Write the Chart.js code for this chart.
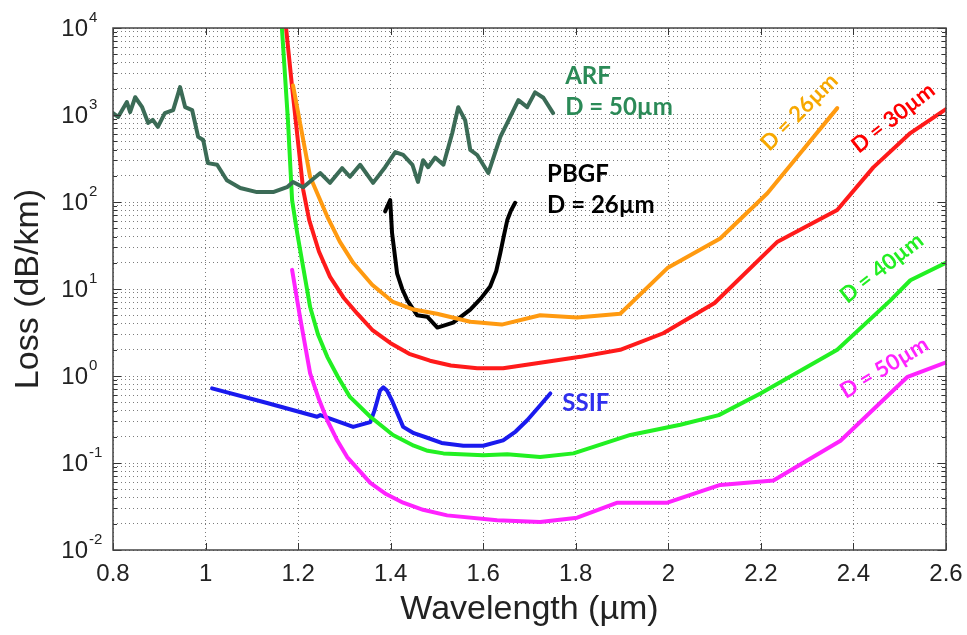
<!DOCTYPE html>
<html>
<head>
<meta charset="utf-8">
<script src="https://cdn.jsdelivr.net/npm/chart.js@4.4.1/dist/chart.umd.min.js"></script>
<style>
  html, body { margin: 0; padding: 0; background: #fff; }
  #wrap { width: 967px; height: 635px; position: relative; }
</style>
</head>
<body>
<div id="wrap"><canvas id="lossChart"></canvas></div>
<script>
// values: wavelength in um, loss in dB/km
const arfWl = [0.800, 0.811, 0.830, 0.837, 0.848, 0.863, 0.876, 0.886, 0.897, 0.912, 0.930, 0.945, 0.956, 0.971, 0.984, 0.995, 1.005, 1.025, 1.046, 1.075, 1.111, 1.146, 1.176, 1.189, 1.211, 1.248, 1.269, 1.295, 1.312, 1.334, 1.362, 1.388, 1.410, 1.427, 1.447, 1.459, 1.470, 1.481, 1.496, 1.514, 1.533, 1.546, 1.561, 1.572, 1.587, 1.611, 1.637, 1.652, 1.676, 1.695, 1.712, 1.730, 1.751];
const arfLoss = [1050, 950, 1410, 1080, 1600, 1230, 810, 880, 730, 1050, 1140, 2090, 1230, 1140, 560, 515, 280, 268, 178, 145, 130, 130, 148, 170, 148, 215, 166, 245, 195, 268, 166, 251, 375, 347, 268, 170, 302, 251, 324, 268, 617, 1230, 870, 398, 347, 215, 562, 813, 1480, 1230, 1820, 1580, 1050];

const pbgfWl = [1.388, 1.399, 1.403, 1.414, 1.425, 1.436, 1.457, 1.479, 1.501, 1.535, 1.572, 1.595, 1.615, 1.628, 1.637, 1.645, 1.652, 1.660, 1.669];
const pbgfLoss = [78, 105, 44, 15, 10, 7.4, 5.0, 4.8, 3.6, 4.1, 5.8, 7.8, 10.7, 16, 26, 42, 62, 80, 98];

const ssifWl = [1.014, 1.133, 1.241, 1.248, 1.319, 1.356, 1.365, 1.371, 1.377, 1.384, 1.392, 1.403, 1.427, 1.450, 1.479, 1.510, 1.557, 1.600, 1.643, 1.670, 1.695, 1.720, 1.745];
const ssifLoss = [0.72, 0.49, 0.34, 0.355, 0.26, 0.295, 0.40, 0.52, 0.68, 0.74, 0.68, 0.52, 0.26, 0.22, 0.195, 0.17, 0.158, 0.158, 0.182, 0.23, 0.31, 0.44, 0.63];

const d26Wl = [1.189, 1.226, 1.263, 1.290, 1.319, 1.360, 1.405, 1.450, 1.500, 1.572, 1.640, 1.723, 1.803, 1.896, 1.998, 2.112, 2.214, 2.285, 2.365];
const d26Loss = [2190, 195, 68, 35, 20, 11.2, 7.1, 5.8, 5.2, 4.2, 3.9, 5.0, 4.7, 5.2, 17.4, 38, 126, 363, 1200];

const d30Wl = [1.174, 1.187, 1.211, 1.224, 1.245, 1.269, 1.298, 1.328, 1.360, 1.399, 1.440, 1.485, 1.530, 1.587, 1.643, 1.810, 1.896, 1.989, 2.100, 2.236, 2.365, 2.443, 2.523, 2.603];
const d30Loss = [10000, 2100, 138, 62, 27, 13.8, 8.0, 5.2, 3.4, 2.4, 1.8, 1.5, 1.32, 1.23, 1.23, 1.66, 2.0, 3.1, 6.9, 35, 81, 250, 620, 1200];

const d40Wl = [1.165, 1.178, 1.187, 1.198, 1.226, 1.243, 1.263, 1.285, 1.312, 1.356, 1.405, 1.450, 1.480, 1.514, 1.600, 1.652, 1.723, 1.795, 1.918, 2.026, 2.109, 2.199, 2.365, 2.480, 2.523, 2.603];
const d40Loss = [10000, 870, 105, 44, 6.2, 3.0, 1.66, 1.0, 0.575, 0.34, 0.21, 0.158, 0.138, 0.129, 0.123, 0.126, 0.117, 0.129, 0.21, 0.275, 0.355, 0.63, 2.0, 7.4, 12.6, 20.4];

const d50Wl = [1.187, 1.204, 1.226, 1.245, 1.263, 1.285, 1.306, 1.356, 1.390, 1.427, 1.470, 1.522, 1.630, 1.723, 1.803, 1.890, 1.998, 2.112, 2.227, 2.372, 2.517, 2.603];
const d50Loss = [16.6, 4.8, 1.07, 0.54, 0.31, 0.18, 0.117, 0.059, 0.044, 0.035, 0.029, 0.025, 0.022, 0.021, 0.0235, 0.035, 0.035, 0.056, 0.063, 0.18, 0.98, 1.45];

const xTicks = [0.8, 1.0, 1.2, 1.4, 1.6, 1.8, 2.0, 2.2, 2.4, 2.6];
const yDecades = [0.01, 0.1, 1, 10, 100, 1000, 10000];
const yExponents = ['-2', '-1', '0', '1', '2', '3', '4'];

// text notes, anchored in data coordinates
const notes = [
  { text: 'ARF', wl: 1.777, loss: 2800, color: '#2b8a57', angle: 0 },
  { text: 'D = 50\u00b5m', wl: 1.777, loss: 1236, color: '#2b8a57', angle: 0 },
  { text: 'PBGF', wl: 1.738, loss: 210, color: '#000', angle: 0 },
  { text: 'D = 26\u00b5m', wl: 1.738, loss: 92, color: '#000', angle: 0 },
  { text: 'SSIF', wl: 1.771, loss: 0.49, color: '#3030ee', angle: 0 },
  { text: 'D = 26\u00b5m', wl: 2.283, loss: 1080, color: '#f7a800', angle: -45, center: true },
  { text: 'D = 30\u00b5m', wl: 2.486, loss: 925, color: '#ff0000', angle: -38, center: true },
  { text: 'D = 40\u00b5m', wl: 2.461, loss: 17.4, color: '#22ee22', angle: -38, center: true },
  { text: 'D = 50\u00b5m', wl: 2.467, loss: 1.24, color: '#ff22ff', angle: -31, center: true }
];

function pts(wl, loss) {
  return wl.map((w, i) => ({ x: w, y: loss[i] }));
}

function series(label, wl, loss, color) {
  return {
    label: label,
    data: pts(wl, loss),
    borderColor: color,
    borderWidth: 4,
    pointRadius: 0,
    fill: false,
    borderJoinStyle: 'round',
    borderCapStyle: 'round',
    tension: 0
  };
}

const AXIS_FONT = '"Liberation Sans", Arial, sans-serif';

// box, inward tick marks, y labels with superscripts and the curve notes
const frame = {
  id: 'frame',
  afterDatasetsDraw(chart) {
    const { ctx, chartArea: a, scales: { x, y } } = chart;
    ctx.save();
    ctx.strokeStyle = '#333';
    ctx.lineWidth = 1;
    ctx.beginPath();
    xTicks.forEach(t => {
      const px = Math.round(x.getPixelForValue(t)) + 0.5;
      ctx.moveTo(px, a.bottom); ctx.lineTo(px, a.bottom - 7);
      ctx.moveTo(px, a.top); ctx.lineTo(px, a.top + 7);
    });
    yDecades.forEach((d, i) => {
      for (let m = 1; m <= 9; m++) {
        if (i === yDecades.length - 1 && m > 1) break;
        const py = Math.round(y.getPixelForValue(d * m)) + 0.5;
        const len = m === 1 ? 8 : 4;
        ctx.moveTo(a.left, py); ctx.lineTo(a.left + len, py);
        ctx.moveTo(a.right, py); ctx.lineTo(a.right - len, py);
      }
    });
    ctx.stroke();
    ctx.lineWidth = 1.5;
    ctx.strokeStyle = '#444';
    ctx.strokeRect(a.left, a.top, a.right - a.left, a.bottom - a.top);

    ctx.fillStyle = '#222';
    yDecades.forEach((d, i) => {
      const py = y.getPixelForValue(d);
      ctx.font = '24px ' + AXIS_FONT;
      ctx.textAlign = 'right';
      ctx.textBaseline = 'middle';
      ctx.fillText('10', a.left - 25, py + 1);
      ctx.font = '15px ' + AXIS_FONT;
      ctx.textAlign = 'left';
      ctx.fillText(yExponents[i], a.left - 24, py - 10);
    });

    notes.forEach(n => {
      const px = x.getPixelForValue(n.wl);
      const py = y.getPixelForValue(n.loss);
      ctx.save();
      ctx.translate(px, py);
      ctx.rotate(n.angle * Math.PI / 180);
      ctx.font = (n.center ? 'bold 22px' : 'bold 24px') + ' Lato, "Open Sans", sans-serif';
      ctx.fillStyle = n.color;
      ctx.textAlign = n.center ? 'center' : 'left';
      ctx.textBaseline = 'middle';
      ctx.fillText(n.text, 0, 0);
      ctx.restore();
    });
    ctx.restore();
  }
};

new Chart(document.getElementById('lossChart'), {
  type: 'line',
  data: {
    datasets: [
      series('ARF D = 50um', arfWl, arfLoss, '#3b6b56'),
      series('D = 26um', d26Wl, d26Loss, '#ff9a10'),
      series('D = 30um', d30Wl, d30Loss, '#ff1a1a'),
      series('D = 40um', d40Wl, d40Loss, '#22f022'),
      series('D = 50um', d50Wl, d50Loss, '#ff22ff'),
      series('PBGF D = 26um', pbgfWl, pbgfLoss, '#000000'),
      series('SSIF', ssifWl, ssifLoss, '#1a1aee')
    ]
  },
  options: {
    responsive: true,
    maintainAspectRatio: false,
    animation: false,
    layout: { padding: { top: 28, right: 21, left: 0, bottom: 0 } },
    plugins: { legend: { display: false }, tooltip: { enabled: false } },
    scales: {
      x: {
        type: 'linear',
        min: 0.8,
        max: 2.6,
        afterBuildTicks: s => { s.ticks = xTicks.map(v => ({ value: v })); },
        afterFit: s => { s.height = 85; s.paddingLeft = 0; s.paddingRight = 0; },
        grid: { color: 'rgba(80,80,80,0.75)', lineWidth: 1, drawTicks: false },
        border: { display: false, dash: [1, 3] },
        ticks: {
          padding: 10,
          color: '#222',
          font: { family: AXIS_FONT, size: 24 },
          maxRotation: 0,
          callback: v => Math.abs(v - Math.round(v)) < 1e-9 ? String(Math.round(v)) : v.toFixed(1)
        },
        title: {
          display: true,
          text: 'Wavelength (\u00b5m)',
          color: '#222',
          font: { family: AXIS_FONT, size: 34 },
          padding: { top: 0, bottom: 5 }
        }
      },
      y: {
        type: 'logarithmic',
        min: 0.01,
        max: 10000,
        afterBuildTicks: s => {
          const t = [];
          yDecades.forEach((d, i) => {
            for (let m = 1; m <= 9; m++) {
              if (i === yDecades.length - 1 && m > 1) break;
              t.push({ value: d * m });
            }
          });
          s.ticks = t;
        },
        afterFit: s => { s.width = 113; s.paddingTop = 0; s.paddingBottom = 0; },
        grid: { color: 'rgba(80,80,80,0.75)', lineWidth: 1, drawTicks: false },
        border: { display: false, dash: [1, 3] },
        ticks: { display: false },
        title: {
          display: true,
          text: 'Loss (dB/km)',
          color: '#222',
          font: { family: AXIS_FONT, size: 34 },
          padding: { top: 8, bottom: 0 }
        }
      }
    }
  },
  plugins: [frame]
});
</script>
</body>
</html>
